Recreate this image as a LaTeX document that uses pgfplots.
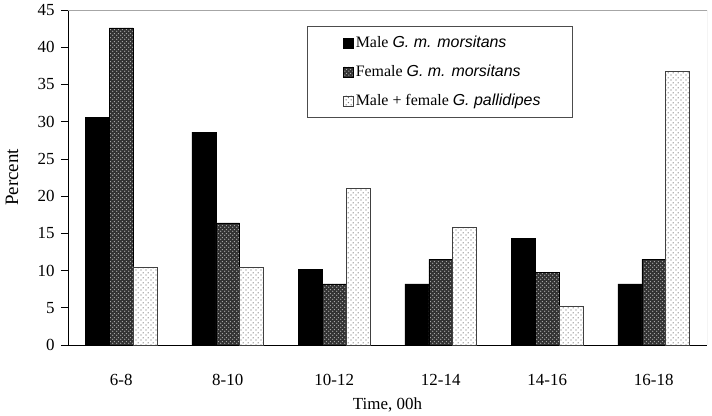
\documentclass[border=0pt]{standalone}
\usepackage{pgfplots}
\pgfplotsset{compat=1.18}
\usepackage{fontspec}
\setmainfont{Liberation Serif}
\newfontfamily\arialfont{Liberation Sans}
\usetikzlibrary{patterns}
\pgfdeclarepatternformonly{sparsedots}{\pgfqpoint{0bp}{0bp}}{\pgfqpoint{5bp}{5bp}}{\pgfqpoint{5bp}{5bp}}{%
  \pgfpathcircle{\pgfqpoint{1.25bp}{1.25bp}}{0.75bp}%
  \pgfpathcircle{\pgfqpoint{3.75bp}{3.75bp}}{0.75bp}%
  \pgfusepath{fill}}
\pgfdeclarepatternformonly{diamdots}{\pgfqpoint{0bp}{0bp}}{\pgfqpoint{4bp}{4bp}}{\pgfqpoint{4bp}{4bp}}{%
  \pgfpathcircle{\pgfqpoint{1bp}{1bp}}{0.8bp}%
  \pgfpathcircle{\pgfqpoint{3bp}{3bp}}{0.8bp}%
  \pgfusepath{fill}}
\begin{document}
\begin{tikzpicture}
\useasboundingbox (-68bp,-71bp) rectangle (644bp,345bp);
\begin{axis}[
  at={(0,0)}, anchor=south west,
  width=639bp, height=335bp, scale only axis,
  font=\fontsize{17}{19}\selectfont,
  /pgf/number format/assume math mode=true,
  ybar=0pt, bar width=0.225,
  xmin=-0.5, xmax=5.5, ymin=0, ymax=45,
  axis x line*=bottom, axis y line*=left,
  axis line style={black, line width=0.6bp},
  xtick={0,1,2,3,4,5},
  xticklabels={6-8,8-10,10-12,12-14,14-16,16-18},
  x tick style={draw=none},
  xticklabel style={anchor=center},
  xticklabel shift=28bp,
  extra x ticks={0.5,1.5,2.5,3.5,4.5,5.5},
  extra x tick labels={},
  extra x tick style={tick style={draw=black, line width=0.6bp}, major tick length=5bp, tick align=outside},
  ytick={0,5,...,45},
  y tick style={black, line width=0.6bp},
  major tick length=7bp, tick align=outside,
  yticklabel style={anchor=east, xshift=-3bp, font=\fontsize{17}{19}\selectfont},
  xlabel={Time, 00h},
  xlabel style={at={(axis description cs:0.5,-0.179)}, anchor=center},
  ylabel={Percent},
  ylabel style={at={(axis description cs:-0.0876,0.5)}, anchor=center, font=\fontsize{19}{21}\selectfont},
  legend style={at={(axis description cs:0.374,0.952)}, anchor=north west,
    draw=black!70, line width=0.6bp, inner xsep=30bp, inner ysep=8bp,
    row sep=12bp, cells={anchor=west},
    font=\fontsize{16}{18}\selectfont},
  legend image code/.code={\path (0bp,0bp); \draw[#1] (6bp,-5bp) rectangle (16bp,5bp);},
  legend cell align=left,
]
\addplot[fill=black, draw=black, line width=0.5bp] coordinates {(0,30.6) (1,28.6) (2,10.2) (3,8.2) (4,14.3) (5,8.2)};
\addplot[fill=black!80, draw=black, line width=0.5bp, postaction={pattern=diamdots, pattern color=white!70!black}] coordinates {(0,42.6) (1,16.4) (2,8.2) (3,11.5) (4,9.8) (5,11.5)};
\addplot[fill=white, draw=black!75, line width=0.5bp, postaction={pattern=sparsedots, pattern color=black!60}] coordinates {(0,10.5) (1,10.5) (2,21.05) (3,15.8) (4,5.26) (5,36.8)};
\legend{Male {\arialfont\itshape G. m. morsitans}, Female {\arialfont\itshape G. m. morsitans}, Male + female {\arialfont\itshape G. pallidipes}}
\draw[black!35, line width=0.8bp] (rel axis cs:0,1) -- (rel axis cs:1,1) -- (rel axis cs:1,0);
\end{axis}
\end{tikzpicture}
\end{document}
